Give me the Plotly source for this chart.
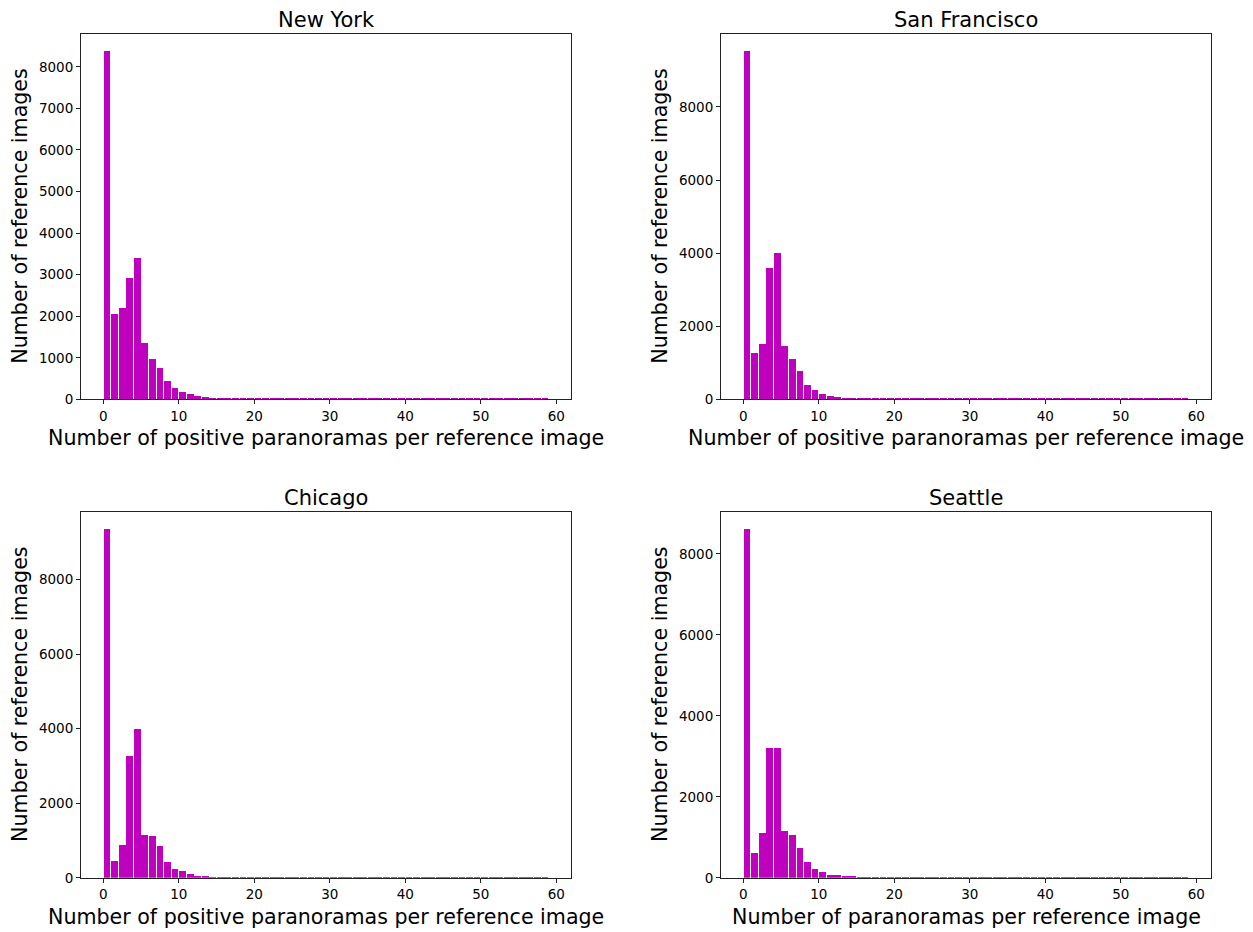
import plotly.graph_objects as go

# Histogram bins: [k, k+1) for k = 0..58
bin_left = list(range(0, 59))

ny_counts = [8370, 2050, 2200, 2910, 3390, 1350, 970, 750, 440, 270,
             180, 130, 85, 45, 40, 40, 22, 20, 19, 18,
             18, 17, 17, 16, 16, 16, 15, 15, 15, 15,
             14, 14, 14, 14, 14, 13, 13, 13, 13, 13,
             13, 12, 12, 12, 12, 12, 12, 12, 12, 12,
             11, 11, 11, 11, 11, 11, 11, 11, 11]
sf_counts = [9520, 1275, 1520, 3595, 4005, 1465, 1110, 785, 400, 265,
             155, 100, 73, 45, 45, 22, 20, 19, 18, 18,
             17, 17, 16, 16, 16, 15, 15, 15, 15, 14,
             14, 14, 14, 14, 13, 13, 13, 13, 13, 13,
             12, 12, 12, 12, 12, 12, 12, 12, 12, 11,
             11, 11, 11, 11, 11, 11, 11, 11, 11]
chi_counts = [9342, 456, 886, 3257, 4000, 1154, 1128, 859, 430, 242,
              195, 90, 60, 36, 16, 15, 14, 14, 13, 13,
              13, 13, 12, 12, 12, 12, 12, 11, 11, 11,
              11, 11, 11, 11, 10, 10, 10, 10, 10, 10,
              10, 10, 10, 10, 9, 9, 9, 9, 9, 9,
              9, 9, 9, 9, 9, 9, 9, 9, 9]
sea_counts = [8602, 618, 1112, 3213, 3213, 1162, 1063, 742, 395, 222,
              132, 82, 58, 33, 33, 18, 17, 16, 16, 15,
              15, 15, 14, 14, 14, 14, 13, 13, 13, 13,
              13, 12, 12, 12, 12, 12, 12, 11, 11, 11,
              11, 11, 11, 11, 11, 10, 10, 10, 10, 10,
              10, 10, 10, 10, 10, 10, 10, 10, 10]

titles = ["New York", "San Francisco", "Chicago", "Seattle"]
xlabels = ["Number of positive paranoramas per reference image",
           "Number of positive paranoramas per reference image",
           "Number of positive paranoramas per reference image",
           "Number of paranoramas per reference image"]
ylabel = "Number of reference images"
ydticks = [1000, 2000, 2000, 2000]
all_counts = [ny_counts, sf_counts, chi_counts, sea_counts]

W, H = 1253, 932
OFF = 8        # page body margin offset
SY = 0.9905    # observed vertical scale of the rendered page
# plot area pixel boxes in the page (left, right, top, bottom)
boxes = [(81, 571, 34, 399), (721, 1211, 34, 399),
         (81, 571, 511.5, 877), (721, 1211, 511.5, 877)]

FONT = "DejaVu Sans"
BAR = "#bf00bf"


def px(v):
    return (v - OFF) / W


def py(v):
    return 1 - ((v - OFF) / SY) / H


fig = go.Figure()
annotations = []
for i, counts in enumerate(all_counts):
    l, r, t, b = boxes[i]
    xa = "xaxis" if i == 0 else f"xaxis{i+1}"
    ya = "yaxis" if i == 0 else f"yaxis{i+1}"
    xref = "x" if i == 0 else f"x{i+1}"
    yref = "y" if i == 0 else f"y{i+1}"
    fig.add_trace(go.Bar(
        x=[v + 0.5 for v in bin_left], y=counts, width=0.9,
        marker=dict(color=BAR, line=dict(width=0)),
        xaxis=xref, yaxis=yref, showlegend=False, hoverinfo="x+y"))
    ymax = max(counts) * 1.05
    axis_common = dict(showline=True, mirror=True, linecolor="#222", linewidth=1,
                       ticks="outside", ticklen=4, tickcolor="#222", tickwidth=1,
                       showgrid=False, zeroline=False, tickformat="d",
                       tickfont=dict(family=FONT, size=13.5, color="black"))
    fig.update_layout(**{
        xa: dict(domain=[px(l), px(r)], range=[-2.95, 61.95], tick0=0, dtick=10,
                 anchor=yref, **axis_common),
        ya: dict(domain=[py(b), py(t)], range=[0, ymax], tick0=0,
                 dtick=ydticks[i], anchor=xref, **axis_common),
    })
    cx = px((l + r) / 2)
    annotations.append(dict(text=titles[i], x=cx, y=py(t), xref="paper", yref="paper",
                            xanchor="center", yanchor="bottom", showarrow=False,
                            font=dict(family=FONT, size=21, color="black")))
    annotations.append(dict(text=xlabels[i], x=cx, y=py(b + 25), xref="paper", yref="paper",
                            xanchor="center", yanchor="top", showarrow=False,
                            font=dict(family=FONT, size=20.6, color="black")))
    annotations.append(dict(text=ylabel, x=px(l - 61), y=py((t + b) / 2), xref="paper",
                            yref="paper", xanchor="center", yanchor="middle", textangle=-90,
                            showarrow=False, font=dict(family=FONT, size=20.6, color="black")))

fig.update_layout(width=W, height=H, margin=dict(l=0, r=0, t=0, b=0),
                  plot_bgcolor="white", paper_bgcolor="white", bargap=0,
                  annotations=annotations)
fig.write_html("out.html")
